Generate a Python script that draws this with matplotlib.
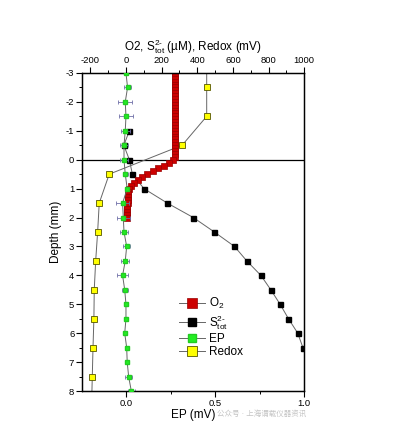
import matplotlib
matplotlib.use("Agg")
from matplotlib import pyplot as plt
from matplotlib.ticker import MultipleLocator

plt.rcParams['font.family'] = ['Liberation Sans', 'Noto Sans CJK SC', 'DejaVu Sans']
plt.rcParams['axes.unicode_minus'] = False
plt.rcParams['mathtext.fontset'] = 'custom'
plt.rcParams['mathtext.rm'] = 'Liberation Sans'
plt.rcParams['mathtext.it'] = 'Liberation Sans'

# O2 profile (µM), 0.1 mm steps
o2_depth = [round(-3.0 + 0.1 * i, 1) for i in range(51)]
o2_conc = [274, 275, 275, 274, 275, 276, 275, 274, 275, 275,
           276, 275, 275, 276, 275, 274, 275, 276, 276, 275,
           276, 276, 277, 276, 277, 277, 277, 277, 277, 276,
           262, 242, 214, 182, 150, 120, 92, 67, 46, 30,
           19, 14, 11, 10, 9, 9, 8, 8, 8, 8, 8]

# total sulfide (µM)
s_depth = [-1.0, -0.5, 0.0, 0.5, 1.0, 1.5, 2.0, 2.5, 3.0, 3.5, 4.0, 4.5, 5.0, 5.5, 6.0, 6.5]
s_conc = [19, -12, 19, 36, 101, 232, 378, 496, 609, 678, 757, 813, 865, 912, 964, 993]

# electric potential (mV) with error
ep_depth = [-3.0, -2.5, -2.0, -1.5, -1.0, -0.5, 0.0, 0.5, 1.0, 1.5, 2.0, 2.5,
            3.0, 3.5, 4.0, 4.5, 5.0, 5.5, 6.0, 6.5, 7.0, 7.5, 8.0]
ep_val = [0.0, 0.009, -0.004, 0.0, -0.004, -0.011, -0.011, -0.004, 0.007, -0.019, -0.015, -0.011,
          0.004, -0.004, -0.019, -0.007, 0.0, 0.0, -0.007, 0.004, 0.007, 0.015, 0.03]
ep_err = [0.01, 0.02, 0.04, 0.037, 0.026, 0.02, 0.023, 0.015, 0.01, 0.035, 0.036, 0.024,
          0.02, 0.022, 0.032, 0.018, 0.01, 0.008, 0.008, 0.008, 0.01, 0.02, 0.02]

# redox potential (mV)
redox_depth = [-3.5, -2.5, -1.5, -0.5, 0.5, 1.5, 2.5, 3.5, 4.5, 5.5, 6.5, 7.5, 8.5]
redox_val = [453, 453, 453, 315, -94, -150, -159, -170, -178, -180, -185, -189, -193]

line_kw = dict(color='#666666', lw=0.7)

fig = plt.figure(figsize=(3.94, 4.45), dpi=100)
ax = fig.add_axes([0.208, 0.1213, 0.564, 0.7147])
ax2 = ax.twiny()

# concentration / redox on the top scale
ax.axhline(0, color='black', lw=0.9, zorder=1)
h_redox, = ax.plot(redox_val, redox_depth, marker='s', ms=4.2,
                   mfc='#ffff00', mec='#555500', mew=0.6, **line_kw)
h_s, = ax.plot(s_conc, s_depth, marker='s', ms=3.6, mfc='black', mec='black', **line_kw)
h_o2, = ax.plot(o2_conc, o2_depth, marker='s', ms=3.9, mfc='#cc0000', mec='#990000',
                mew=0.5, **line_kw)

# EP on the bottom scale
ax2.errorbar(ep_val, ep_depth, xerr=ep_err, fmt='none', ecolor='#7070a8',
             elinewidth=0.6, capsize=1.5, capthick=0.6, zorder=2)
h_ep, = ax2.plot(ep_val, ep_depth, marker='s', ms=3.2, mfc='#22ee22', mec='#22cc22',
                 zorder=3, **line_kw)

ax.set_xlim(-247, 1000)
ax2.set_xlim(-0.247, 1.0)
ax.set_ylim(8, -3)

ax.xaxis.set_ticks_position('top')
ax.xaxis.set_label_position('top')
ax2.xaxis.set_ticks_position('bottom')
ax2.xaxis.set_label_position('bottom')

ax.xaxis.set_major_locator(MultipleLocator(200))
ax.xaxis.set_minor_locator(MultipleLocator(100))
ax2.xaxis.set_major_locator(MultipleLocator(0.5))
ax2.xaxis.set_minor_locator(MultipleLocator(0.25))
ax.yaxis.set_major_locator(MultipleLocator(1))
ax.yaxis.set_minor_locator(MultipleLocator(0.5))
ax2.xaxis.set_major_formatter(plt.FormatStrFormatter('%.1f'))

for a in (ax, ax2):
    a.tick_params(which='major', direction='out', length=4, width=0.8, labelsize=6.8, pad=1.5)
    a.tick_params(which='minor', direction='out', length=2.2, width=0.7)
    for sp in a.spines.values():
        sp.set_linewidth(0.9)
ax.tick_params(axis='y', which='both', right=False)

ax.set_xlabel('O2, S$^{2\u2010}_{tot}$ (µM), Redox (mV)', fontsize=8.5, labelpad=4)
ax2.set_xlabel('EP (mV)', fontsize=8.5, labelpad=1)
ax.set_ylabel('Depth (mm)', fontsize=8.5, labelpad=3)

ax2.legend([h_o2, h_s, h_ep, h_redox],
           ['O$_2$', 'S$^{2\u2010}_{tot}$', 'EP', 'Redox'],
           loc='center', bbox_to_anchor=(0.58, 0.2), frameon=False,
           fontsize=8.5, markerscale=1.7, handlelength=2.2, handletextpad=0.3,
           labelspacing=0.12)

# faint watermark at the bottom right
fig.text(0.778, 0.070, '公众号 · 上海谓载仪器资讯', fontsize=5.4, color='#c4c4c4',
         ha='right', va='center')

fig.savefig('out.png', dpi=100)
